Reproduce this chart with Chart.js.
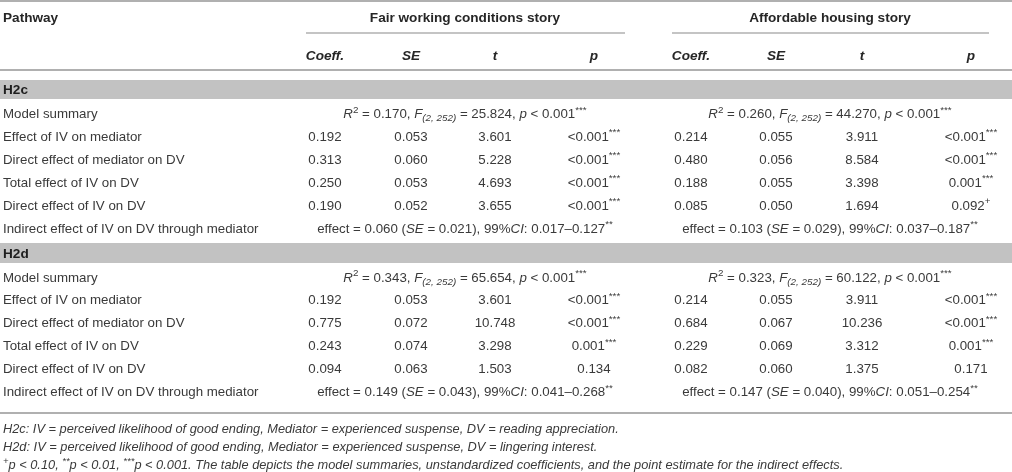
<!DOCTYPE html>
<html>
<head>
<meta charset="utf-8">
<script src="https://cdn.jsdelivr.net/npm/chart.js@4.4.1/dist/chart.umd.min.js"></script>
<style>
  html, body { margin: 0; padding: 0; background: #ffffff; }
  #wrap { width: 1012px; height: 472px; position: relative; }
</style>
</head>
<body>
<div id="wrap"><canvas id="c"></canvas></div>
<script>
// ---------------- DATA ----------------
const stories = ['Fair working conditions story', 'Affordable housing story'];
const statHeaders = ['Coeff.', 'SE', 't', 'p'];
const models = ['H2c', 'H2d'];
const pathways = ['Effect of IV on mediator', 'Direct effect of mediator on DV', 'Total effect of IV on DV', 'Direct effect of IV on DV'];
const summaryLabel = 'Model summary';
const indirectLabel = 'Indirect effect of IV on DV through mediator';
const dfLabel = '(2, 252)';

// model summaries: [H2c fair, H2c affordable, H2d fair, H2d affordable]
const summaryR2 = [0.170, 0.260, 0.343, 0.323];
const summaryF = [25.824, 44.270, 65.654, 60.122];
const summaryP = ['0.001', '0.001', '0.001', '0.001'];
const summarySig = ['***', '***', '***', '***'];

// indirect effects: [H2c fair, H2c affordable, H2d fair, H2d affordable]
const indirectEffect = [0.060, 0.103, 0.149, 0.147];
const indirectSE = [0.021, 0.029, 0.043, 0.040];
const indirectCILow = [0.017, 0.037, 0.041, 0.051];
const indirectCIHigh = [0.127, 0.187, 0.268, 0.254];
const indirectSig = ['**', '**', '**', '**'];

// H2c
const h2cFairCoeff = [0.192, 0.313, 0.250, 0.190];
const h2cFairSE = [0.053, 0.060, 0.053, 0.052];
const h2cFairT = [3.601, 5.228, 4.693, 3.655];
const h2cFairP = ['<0.001', '<0.001', '<0.001', '<0.001'];
const h2cFairSig = ['***', '***', '***', '***'];
const h2cAffCoeff = [0.214, 0.480, 0.188, 0.085];
const h2cAffSE = [0.055, 0.056, 0.055, 0.050];
const h2cAffT = [3.911, 8.584, 3.398, 1.694];
const h2cAffP = ['<0.001', '<0.001', '0.001', '0.092'];
const h2cAffSig = ['***', '***', '***', '+'];
// H2d
const h2dFairCoeff = [0.192, 0.775, 0.243, 0.094];
const h2dFairSE = [0.053, 0.072, 0.074, 0.063];
const h2dFairT = [3.601, 10.748, 3.298, 1.503];
const h2dFairP = ['<0.001', '<0.001', '0.001', '0.134'];
const h2dFairSig = ['***', '***', '***', ''];
const h2dAffCoeff = [0.214, 0.684, 0.229, 0.082];
const h2dAffSE = [0.055, 0.067, 0.069, 0.060];
const h2dAffT = [3.911, 10.236, 3.312, 1.375];
const h2dAffP = ['<0.001', '<0.001', '0.001', '0.171'];
const h2dAffSig = ['***', '***', '***', ''];

const footnotes = [
  [['H2c: IV = perceived likelihood of good ending, Mediator = experienced suspense, DV = reading appreciation.', 'i']],
  [['H2d: IV = perceived likelihood of good ending, Mediator = experienced suspense, DV = lingering interest.', 'i']],
  [['+', 'isup'], ['p < 0.10, ', 'i'], ['**', 'isup'], ['p < 0.01, ', 'i'], ['***', 'isup'], ['p < 0.001. The table depicts the model summaries, unstandardized coefficients, and the point estimate for the indirect effects.', 'i']]
];

// ---------------- LAYOUT (scale units) ----------------
const FAM = '"Liberation Sans", Arial, Helvetica, sans-serif';
const BODY = 13.3, HEAD = 13.6, FOOT = 12.8;
const colX = [[325, 411, 495, 594], [691, 776, 862, 971]];
const blockCenter = [465, 830];
const blockLine = [[306, 625], [672, 989]];
const Y = {
  top: 1, header: 17, headerLine: 33, sub: 55, subLine: 70,
  bands: [[80, 99], [243, 263]],
  summary: [113.5, 277],
  rows: [[136, 159, 182, 205], [299.5, 322.5, 345.5, 368.5]],
  indirect: [228, 391.5],
  bottomLine: 413,
  foot: [428, 446.5, 464.5]
};

const f3 = v => v.toFixed(3);

function fontStr(style, size) {
  const it = style.indexOf('i') >= 0 ? 'italic ' : '';
  const bd = style.indexOf('b') >= 0 ? 'bold ' : '';
  return it + bd + size + 'px ' + FAM;
}

function drawRich(ctx, segs, x, y, align, base, color) {
  const items = segs.map(([t, st]) => {
    st = st || '';
    const small = st.indexOf('sup') >= 0 || st.indexOf('sub') >= 0;
    const size = small ? base * 0.74 : base;
    const font = fontStr(st.replace('sup', '').replace('sub', ''), size);
    ctx.font = font;
    return { t, font, w: ctx.measureText(t).width, sup: st.indexOf('sup') >= 0, sub: st.indexOf('sub') >= 0 };
  });
  const total = items.reduce((a, b) => a + b.w, 0);
  let cx = align === 'center' ? x - total / 2 : (align === 'right' ? x - total : x);
  ctx.fillStyle = color;
  ctx.textBaseline = 'alphabetic';
  ctx.textAlign = 'left';
  const baseY = y + base * 0.36;
  items.forEach(it => {
    ctx.font = it.font;
    let yy = baseY;
    if (it.sup) yy = baseY - base * 0.4;
    if (it.sub) yy = baseY + base * 0.22;
    ctx.fillText(it.t, cx, yy);
    cx += it.w;
  });
}

const blocks = [
  [[h2cFairCoeff, h2cFairSE, h2cFairT, h2cFairP, h2cFairSig], [h2cAffCoeff, h2cAffSE, h2cAffT, h2cAffP, h2cAffSig]],
  [[h2dFairCoeff, h2dFairSE, h2dFairT, h2dFairP, h2dFairSig], [h2dAffCoeff, h2dAffSE, h2dAffT, h2dAffP, h2dAffSig]]
];

const TXT = '#3a3a3a';
const HDR = '#262626';
const LINE = '#b0b0b0';
const BAND = '#c2c2c2';

const tablePlugin = {
  id: 'tablePlugin',
  afterDraw(chart) {
    const ctx = chart.ctx;
    const xs = chart.scales.x, ys = chart.scales.y;
    const px = v => xs.getPixelForValue(v);
    const py = v => ys.getPixelForValue(v);
    ctx.save();

    const hline = (x0, x1, y, w, c) => {
      ctx.strokeStyle = c; ctx.lineWidth = w;
      ctx.beginPath(); ctx.moveTo(px(x0), py(y)); ctx.lineTo(px(x1), py(y)); ctx.stroke();
    };

    // rules
    hline(0, 1012, Y.top, 2, LINE);
    blockLine.forEach(([a, b]) => hline(a, b, Y.headerLine, 1.5, LINE));
    hline(0, 1012, Y.subLine, 2, LINE);
    hline(0, 1012, Y.bottomLine, 2, LINE);

    // bands
    Y.bands.forEach(([a, b], m) => {
      ctx.fillStyle = BAND;
      ctx.fillRect(px(0), py(a), px(1012) - px(0), py(b) - py(a));
      drawRich(ctx, [[models[m], 'b']], px(3), py((a + b) / 2), 'left', HEAD, '#1e1e1e');
    });

    // headers
    drawRich(ctx, [['Pathway', 'b']], px(3), py(Y.header), 'left', HEAD, HDR);
    stories.forEach((s, k) => {
      drawRich(ctx, [[s, 'b']], px(blockCenter[k]), py(Y.header), 'center', HEAD, HDR);
      statHeaders.forEach((h, j) => {
        drawRich(ctx, [[h, 'bi']], px(colX[k][j]), py(Y.sub), 'center', HEAD, HDR);
      });
    });

    // model sections
    models.forEach((m, mi) => {
      drawRich(ctx, [[summaryLabel, '']], px(3), py(Y.summary[mi]), 'left', BODY, TXT);
      pathways.forEach((p, r) => drawRich(ctx, [[p, '']], px(3), py(Y.rows[mi][r]), 'left', BODY, TXT));
      drawRich(ctx, [[indirectLabel, '']], px(3), py(Y.indirect[mi]), 'left', BODY, TXT);

      stories.forEach((s, k) => {
        const idx = mi * 2 + k;
        // summary
        drawRich(ctx, [
          ['R', 'i'], ['2', 'sup'], [' = ' + f3(summaryR2[idx]) + ', ', ''],
          ['F', 'i'], [dfLabel, 'isub'], [' = ' + f3(summaryF[idx]) + ', ', ''],
          ['p', 'i'], [' < ' + summaryP[idx], ''], [summarySig[idx], 'sup']
        ], px(blockCenter[k]), py(Y.summary[mi]), 'center', BODY, TXT);

        // rows
        const [co, se, t, p, sig] = blocks[mi][k];
        pathways.forEach((_, r) => {
          const yy = py(Y.rows[mi][r]);
          drawRich(ctx, [[f3(co[r]), '']], px(colX[k][0]), yy, 'center', BODY, TXT);
          drawRich(ctx, [[f3(se[r]), '']], px(colX[k][1]), yy, 'center', BODY, TXT);
          drawRich(ctx, [[f3(t[r]), '']], px(colX[k][2]), yy, 'center', BODY, TXT);
          const segs = [[p[r], '']];
          if (sig[r]) segs.push([sig[r], 'sup']);
          drawRich(ctx, segs, px(colX[k][3]), yy, 'center', BODY, TXT);
        });

        // indirect
        drawRich(ctx, [
          ['effect = ' + f3(indirectEffect[idx]) + ' (', ''], ['SE', 'i'],
          [' = ' + f3(indirectSE[idx]) + '), 99%', ''], ['CI', 'i'],
          [': ' + f3(indirectCILow[idx]) + '\u2013' + f3(indirectCIHigh[idx]), ''],
          [indirectSig[idx], 'sup']
        ], px(blockCenter[k]), py(Y.indirect[mi]), 'center', BODY, TXT);
      });
    });

    // footnotes
    footnotes.forEach((segs, i) => drawRich(ctx, segs, px(3), py(Y.foot[i]), 'left', FOOT, TXT));

    ctx.restore();
  }
};

new Chart(document.getElementById('c'), {
  type: 'scatter',
  data: { datasets: [{ data: [], pointRadius: 0 }] },
  options: {
    responsive: true,
    maintainAspectRatio: false,
    animation: false,
    layout: { padding: 0 },
    plugins: { legend: { display: false }, tooltip: { enabled: false } },
    scales: {
      x: { type: 'linear', min: 0, max: 1012, display: false },
      y: { type: 'linear', min: 0, max: 472, reverse: true, display: false }
    }
  },
  plugins: [tablePlugin]
});
</script>
</body>
</html>
